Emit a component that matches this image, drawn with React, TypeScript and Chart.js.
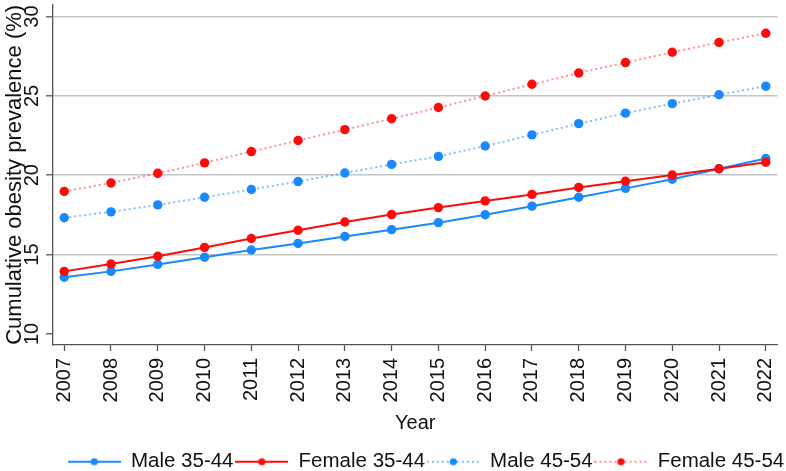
import React, { useEffect, useRef } from "react";
import { Chart, registerables } from "chart.js";

Chart.register(...registerables);

// Survey years on the x axis
const years = [2007, 2008, 2009, 2010, 2011, 2012, 2013, 2014, 2015, 2016, 2017, 2018, 2019, 2020, 2021, 2022];

// Cumulative obesity prevalence (%) by sex and age band
const male3544 = [13.57, 13.94, 14.38, 14.83, 15.29, 15.7, 16.14, 16.57, 17.01, 17.51, 18.05, 18.61, 19.17, 19.75, 20.41, 21.05];
const female3544 = [13.94, 14.4, 14.89, 15.45, 16.01, 16.53, 17.05, 17.52, 17.96, 18.38, 18.79, 19.23, 19.62, 20.01, 20.41, 20.82];
const male4554 = [17.32, 17.69, 18.13, 18.61, 19.1, 19.6, 20.14, 20.68, 21.19, 21.84, 22.54, 23.25, 23.91, 24.51, 25.07, 25.61];
const female4554 = [18.98, 19.51, 20.12, 20.78, 21.49, 22.19, 22.87, 23.56, 24.27, 24.99, 25.73, 26.44, 27.1, 27.75, 28.37, 28.95];

const seriesLabels = ["Male 35-44", "Female 35-44", "Male 45-54", "Female 45-54"];
const yTicks = [10, 15, 20, 25, 30];

const BLUE = "#1a88ff";
const RED = "#ff0a0a";
const BLUE_DOT = "rgba(26,136,255,0.55)";
const RED_DOT = "rgba(255,10,10,0.45)";
const FONT = '"Liberation Sans", Arial, sans-serif';
const INK = "#111111";
const AXIS = "#555555";

// Legend swatch: a short line with a marker in the middle
function makeSwatch(color: string, lineColor: string, dotted: boolean): HTMLCanvasElement {
  const c = document.createElement("canvas");
  c.width = 53;
  c.height = 10;
  const g = c.getContext("2d")!;
  g.strokeStyle = lineColor;
  g.lineWidth = 2;
  if (dotted) g.setLineDash([2, 3]);
  g.beginPath();
  g.moveTo(0, 5);
  g.lineTo(53, 5);
  g.stroke();
  g.setLineDash([]);
  g.fillStyle = color;
  g.beginPath();
  g.arc(26.5, 5, 3.6, 0, Math.PI * 2);
  g.fill();
  return c;
}

function toPoints(vals: number[]) {
  return years.map((yr, i) => ({ x: yr, y: vals[i] }));
}

// Rotated y tick labels, placed on the axis' own tick positions
const rotatedYLabels = {
  id: "rotatedYLabels",
  afterDraw(chart: any) {
    const s = chart.scales.y;
    const ctx = chart.ctx;
    ctx.save();
    ctx.font = `20px ${FONT}`;
    ctx.fillStyle = INK;
    ctx.textAlign = "center";
    ctx.textBaseline = "alphabetic";
    s.ticks.forEach((t: any) => {
      const py = s.getPixelForValue(t.value);
      ctx.save();
      ctx.translate(38, py);
      ctx.rotate(-Math.PI / 2);
      ctx.fillText(String(t.value), 0, 0);
      ctx.restore();
    });
    ctx.restore();
  },
};

export default function App() {
  const ref = useRef<HTMLCanvasElement | null>(null);

  useEffect(() => {
    if (!ref.current) return;
    Chart.defaults.font.family = FONT;
    Chart.defaults.color = INK;

    const styles = [
      { color: BLUE, line: BLUE, dotted: false, order: 1 },
      { color: RED, line: RED, dotted: false, order: 0 },
      { color: BLUE, line: BLUE_DOT, dotted: true, order: 3 },
      { color: RED, line: RED_DOT, dotted: true, order: 2 },
    ];
    const series = [male3544, female3544, male4554, female4554];
    const swatches = styles.map((s) => makeSwatch(s.color, s.line, s.dotted));

    const chart = new Chart(ref.current, {
      type: "line",
      data: {
        datasets: series.map((vals, i) => ({
          label: seriesLabels[i],
          data: toPoints(vals),
          borderColor: styles[i].line,
          backgroundColor: styles[i].color,
          borderWidth: 2,
          borderDash: styles[i].dotted ? [2, 3] : [],
          pointRadius: 4.7,
          pointBorderWidth: 0,
          pointBackgroundColor: styles[i].color,
          tension: 0,
          order: styles[i].order,
        })),
      },
      options: {
        animation: false,
        responsive: false,
        events: [],
        layout: { padding: 0 },
        scales: {
          x: {
            type: "linear",
            min: 2006.76,
            max: 2022.25,
            afterBuildTicks: (scale: any) => {
              scale.ticks = years.map((v) => ({ value: v }));
            },
            afterFit: (scale: any) => {
              scale.height = 104.7;
              scale.paddingLeft = 0;
              scale.paddingRight = 0;
            },
            ticks: {
              autoSkip: false,
              minRotation: 90,
              maxRotation: 90,
              padding: 7,
              color: INK,
              font: { size: 20 },
              callback: (v: any) => String(v),
            },
            grid: {
              drawOnChartArea: false,
              drawTicks: true,
              tickLength: 6,
              tickColor: AXIS,
              tickWidth: 1.3,
            },
            border: { display: true, color: AXIS, width: 1.3 },
            title: {
              display: true,
              text: "Year",
              color: INK,
              font: { size: 20 },
              padding: { top: 0, bottom: 14.7 },
            },
          },
          y: {
            type: "linear",
            position: "left",
            min: 9.3,
            max: 30.746,
            afterBuildTicks: (scale: any) => {
              scale.ticks = yTicks.map((v) => ({ value: v }));
            },
            afterFit: (scale: any) => {
              scale.width = 53;
            },
            ticks: { display: false },
            grid: {
              color: (ctx: any) => (ctx.tick && ctx.tick.value === 10 ? "rgba(0,0,0,0)" : "#c4c4c4"),
              lineWidth: 1.6,
              drawTicks: true,
              tickLength: 7,
              tickColor: AXIS,
              tickWidth: 1.3,
            },
            border: { display: true, color: AXIS, width: 1.3 },
            title: {
              display: true,
              text: "Cumulative obesity prevalence (%)",
              color: INK,
              font: { size: 22 },
              padding: { top: 1.5, bottom: 0 },
            },
          },
          yRight: {
            type: "linear",
            position: "right",
            display: true,
            ticks: { display: false },
            grid: { display: false, drawTicks: false },
            border: { display: false },
            afterFit: (scale: any) => {
              scale.width = 8.5;
            },
          },
        },
        plugins: {
          tooltip: { enabled: false },
          legend: {
            position: "bottom",
            align: "end",
            labels: {
              usePointStyle: true,
              pointStyleWidth: 53,
              padding: 1.8,
              color: INK,
              font: { size: 20.5 },
              generateLabels: (ch: any) =>
                ch.data.datasets.map((ds: any, i: number) => ({
                  text: ds.label,
                  pointStyle: swatches[i],
                  fillStyle: styles[i].color,
                  strokeStyle: styles[i].color,
                  lineWidth: 0,
                  hidden: false,
                  datasetIndex: i,
                  fontColor: INK,
                })),
            },
          },
        },
      },
      plugins: [rotatedYLabels],
    } as any);

    return () => chart.destroy();
  }, []);

  return (
    <div
      style={{
        position: "fixed",
        left: 0,
        top: 0,
        width: 786,
        height: 471,
        overflow: "hidden",
        background: "#ffffff",
      }}
    >
      <canvas ref={ref} width={786} height={482} style={{ display: "block", width: 786, height: 482 }} />
    </div>
  );
}
